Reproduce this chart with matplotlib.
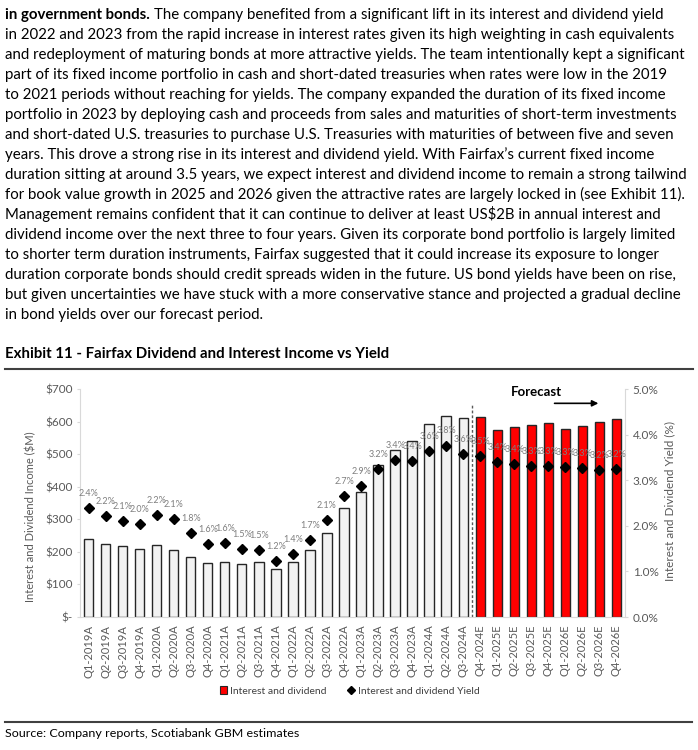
import matplotlib
matplotlib.use("Agg")
import matplotlib.pyplot as plt
from matplotlib.lines import Line2D
from matplotlib.patches import Patch
from matplotlib.ticker import FuncFormatter

plt.rcParams['font.family'] = ['Lato', 'DejaVu Sans']

quarters = ["Q1-2019A", "Q2-2019A", "Q3-2019A", "Q4-2019A",
            "Q1-2020A", "Q2-2020A", "Q3-2020A", "Q4-2020A",
            "Q1-2021A", "Q2-2021A", "Q3-2021A", "Q4-2021A",
            "Q1-2022A", "Q2-2022A", "Q3-2022A", "Q4-2022A",
            "Q1-2023A", "Q2-2023A", "Q3-2023A", "Q4-2023A",
            "Q1-2024A", "Q2-2024A", "Q3-2024A", "Q4-2024E",
            "Q1-2025E", "Q2-2025E", "Q3-2025E", "Q4-2025E",
            "Q1-2026E", "Q2-2026E", "Q3-2026E", "Q4-2026E"]
income = [238, 225, 219, 209, 221, 207, 184, 167,
          170, 164, 169, 148, 170, 205, 259, 336,
          385, 468, 514, 540, 592, 616, 612, 613,
          574, 584, 588, 595, 577, 587, 600, 609]
yield_pct = [2.38, 2.21, 2.10, 2.04, 2.23, 2.14, 1.84, 1.61,
             1.62, 1.50, 1.47, 1.22, 1.39, 1.68, 2.12, 2.66,
             2.87, 3.24, 3.44, 3.42, 3.64, 3.76, 3.58, 3.53,
             3.39, 3.36, 3.31, 3.32, 3.28, 3.26, 3.23, 3.24]
n_actual = 23

paragraph = [
    "in 2022 and 2023 from the rapid increase in interest rates given its high weighting in cash equivalents",
    "and redeployment of maturing bonds at more attractive yields. The team intentionally kept a significant",
    "part of its fixed income portfolio in cash and short-dated treasuries when rates were low in the 2019",
    "to 2021 periods without reaching for yields. The company expanded the duration of its fixed income",
    "portfolio in 2023 by deploying cash and proceeds from sales and maturities of short-term investments",
    "and short-dated U.S. treasuries to purchase U.S. Treasuries with maturities of between five and seven",
    "years. This drove a strong rise in its interest and dividend yield. With Fairfax\u2019s current fixed income",
    "duration sitting at around 3.5 years, we expect interest and dividend income to remain a strong tailwind",
    "for book value growth in 2025 and 2026 given the attractive rates are largely locked in (see Exhibit 11).",
    "Management remains confident that it can continue to deliver at least US$2B in annual interest and",
    "dividend income over the next three to four years. Given its corporate bond portfolio is largely limited",
    "to shorter term duration instruments, Fairfax suggested that it could increase its exposure to longer",
    "duration corporate bonds should credit spreads widen in the future. US bond yields have been on rise,",
    "but given uncertainties we have stuck with a more conservative stance and projected a gradual decline",
    "in bond yields over our forecast period.",
]
first_bold = "in government bonds."
first_rest = "The company benefited from a significant lift in its interest and dividend yield"

W, H = 698, 750
fig = plt.figure(figsize=(W / 100, H / 100), dpi=100)
renderer = fig.canvas.get_renderer()


def fx(px):
    return px / W


def fy(py):
    return 1 - py / H


# size the body text so line widths match the page
probe = fig.text(0, 0, paragraph[0], fontsize=10)
body_size = 10 * 666 / probe.get_window_extent(renderer).width
probe.remove()

t = fig.text(fx(5), fy(19.5), first_bold, fontsize=body_size, fontweight='bold', va='baseline')
bx = t.get_window_extent(renderer).x1
fig.text(fx(bx + 4), fy(19.5), first_rest, fontsize=body_size, va='baseline')
for i, line in enumerate(paragraph):
    fig.text(fx(5), fy(39.5 + 20 * i), line, fontsize=body_size, va='baseline')

title = fig.text(fx(5), fy(358), "Exhibit 11 - Fairfax Dividend and Interest Income vs Yield",
                 fontsize=10, fontweight='bold', va='baseline')
title.set_fontsize(10 * 385 / title.get_window_extent(renderer).width)

fig.add_artist(Line2D([fx(5), fx(693)], [fy(369), fy(369)], color='#404040', lw=1.5))
fig.add_artist(Line2D([fx(5), fx(692)], [fy(721.5), fy(721.5)], color='#404040', lw=1.5))

src = fig.text(fx(5), fy(737), "Source: Company reports, Scotiabank GBM estimates",
               fontsize=10, va='baseline')
src.set_fontsize(10 * 293 / src.get_window_extent(renderer).width)

# chart
ax = fig.add_axes([fx(80), fy(617), (625 - 80) / W, (617 - 389) / H])
ax2 = ax.twinx()

x = list(range(len(quarters)))
colors = ['#F2F2F2'] * n_actual + ['#FF0000'] * (len(quarters) - n_actual)
ax.bar(x, income, width=0.55, color=colors, edgecolor='#262626', linewidth=1.0, zorder=2)

ax2.plot(x, yield_pct, linestyle='none', marker='D', markersize=5, color='black', zorder=3)
for xi, v in zip(x, yield_pct):
    ax2.annotate(f"{v:.1f}%", (xi, v), xytext=(0, 10.5), textcoords='offset points',
                 ha='center', va='center', fontsize=6.5, color='#7F7F7F')

ax.set_xlim(-0.5, len(quarters) - 0.5)
ax.set_ylim(0, 700)
ax2.set_ylim(0, 5)
ax.set_yticks(range(0, 701, 100))
ax2.set_yticks([0, 1, 2, 3, 4, 5])
ax.yaxis.set_major_formatter(FuncFormatter(lambda v, p: "$-" if v == 0 else f"${v:.0f}"))
ax2.yaxis.set_major_formatter(FuncFormatter(lambda v, p: f"{v:.1f}%"))
ax.set_xticks(x)
ax.set_xticklabels(quarters, rotation=90)

for a in (ax, ax2):
    for s in a.spines.values():
        s.set_visible(False)
ax.spines['left'].set_visible(True)
ax.spines['bottom'].set_visible(True)
ax2.spines['right'].set_visible(True)
for s in (ax.spines['left'], ax.spines['bottom'], ax2.spines['right']):
    s.set_color('#D9D9D9')
    s.set_linewidth(0.8)

ax.tick_params(axis='x', length=0, pad=5.5, labelsize=8, labelcolor='#595959')
ax.tick_params(axis='y', length=2.5, pad=3, width=0.8, color='#D9D9D9', labelsize=8.5, labelcolor='#595959')
ax2.tick_params(axis='y', length=2.5, pad=3, width=0.8, color='#D9D9D9', labelsize=8.5, labelcolor='#595959')

# forecast marker
ax.plot([n_actual - 0.5, n_actual - 0.5], [0, 655], linestyle=(0, (2, 1.5)), color='#595959', lw=1.0, zorder=1)
ax.text(26.3, 692, "Forecast", ha='center', va='center', fontsize=9.5, fontweight='bold', color='black')
ax.annotate('', xy=(30.1, 656), xytext=(27.2, 656),
            arrowprops=dict(arrowstyle='-|>', color='black', lw=1.2, mutation_scale=9))

fig.text(fx(31), fy(517), "Interest and Dividend Income ($M)", rotation=90,
         ha='center', va='center', fontsize=8, color='#595959')
fig.text(fx(670), fy(501), "Interest and Dividend Yield (%)", rotation=90,
         ha='center', va='center', fontsize=8.5, color='#595959')

handles = [Patch(facecolor='#FF0000', edgecolor='#262626', linewidth=0.8),
           Line2D([], [], linestyle='none', marker='D', markersize=4.5, color='black')]
fig.legend(handles, ["Interest and dividend", "Interest and dividend Yield"],
           loc='center', bbox_to_anchor=(fx(350), fy(691)), ncol=2, frameon=False,
           fontsize=7.5, labelcolor='#404040', handlelength=0.7, handleheight=0.7,
           handletextpad=0.3, columnspacing=2.0)

fig.savefig("out.png", dpi=100)
